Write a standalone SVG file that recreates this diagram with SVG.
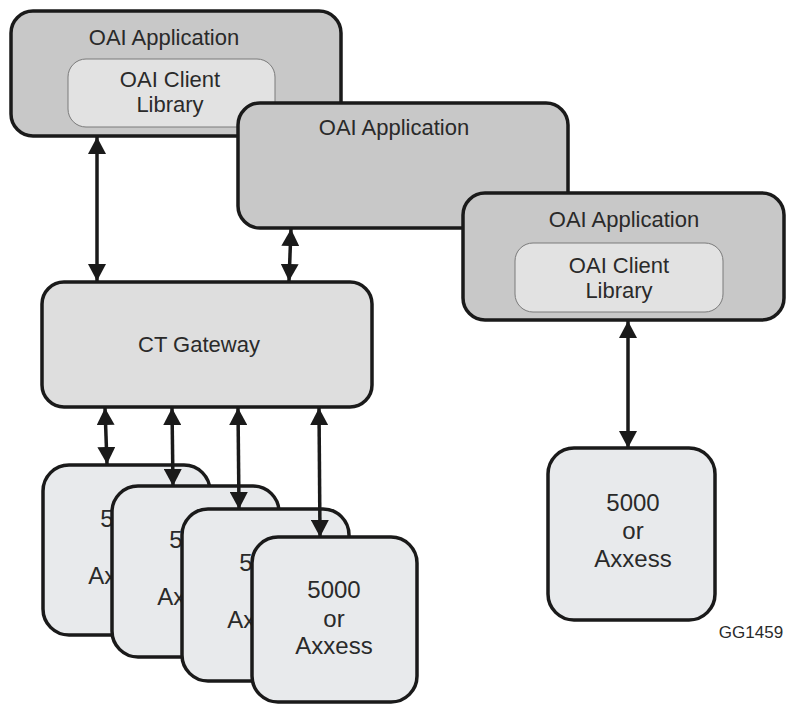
<svg xmlns="http://www.w3.org/2000/svg" width="786" height="704" viewBox="0 0 786 704">
<defs>
<style>
text{font-family:"Liberation Sans",Arial,sans-serif;fill:#2a2a2a;text-anchor:middle}
.app{fill:#c8c8c8;stroke:#1a1a1a;stroke-width:3.5}
.lib{fill:#e2e2e2;stroke:#7a7a7a;stroke-width:1}
.gw{fill:#dedede;stroke:#1a1a1a;stroke-width:3.5}
.dev{fill:#e8eaec;stroke:#1a1a1a;stroke-width:3.5}
.t22{font-size:22px}
.t24{font-size:24px}
.lbl{font-size:17px}
.conn{stroke:#1a1a1a;stroke-width:3.5;fill:none;marker-start:url(#ah);marker-end:url(#ah)}
</style>
<marker id="ah" viewBox="0 0 17 18" refX="17" refY="9" markerWidth="17" markerHeight="18" markerUnits="userSpaceOnUse" orient="auto-start-reverse">
<path d="M0,0 L17,9 L0,18 z" fill="#1a1a1a"/>
</marker>
</defs>
<g id="app1">
<rect class="app" x="11" y="11" width="330" height="125" rx="22"/>
<text class="t22" x="164" y="45">OAI Application</text>
<g id="lib1">
<rect class="lib" x="68" y="59" width="207" height="68" rx="18"/>
<text class="t22" x="170" y="87">OAI Client</text>
<text class="t22" x="170" y="112">Library</text>
</g>
</g>
<g id="app2">
<rect class="app" x="238" y="103" width="330" height="125" rx="22"/>
<text class="t22" x="394" y="135">OAI Application</text>
</g>
<g id="app3">
<rect class="app" x="463" y="193" width="321" height="127" rx="22"/>
<text class="t22" x="624" y="227">OAI Application</text>
<g id="lib3">
<rect class="lib" x="515" y="243" width="208" height="69" rx="18"/>
<text class="t22" x="619" y="273">OAI Client</text>
<text class="t22" x="619" y="298">Library</text>
</g>
</g>
<g id="gateway">
<rect class="gw" x="42" y="282" width="330" height="125" rx="22"/>
<text class="t22" x="199" y="352">CT Gateway</text>
</g>
<g id="dev1">
<rect class="dev" x="43" y="465" width="167" height="170" rx="26"/>
<text class="t24" x="127" y="527">5000</text>
<text class="t24" x="127" y="556">or</text>
<text class="t24" x="127" y="584">Axxess</text>
</g>
<g id="dev2">
<rect class="dev" x="112" y="486" width="167" height="171" rx="26"/>
<text class="t24" x="196" y="548">5000</text>
<text class="t24" x="196" y="577">or</text>
<text class="t24" x="196" y="605">Axxess</text>
</g>
<g id="dev3">
<rect class="dev" x="182" y="509" width="167" height="172" rx="26"/>
<text class="t24" x="266" y="571">5000</text>
<text class="t24" x="266" y="600">or</text>
<text class="t24" x="266" y="628">Axxess</text>
</g>
<g id="dev4">
<rect class="dev" x="252" y="537" width="165" height="165" rx="26"/>
<text class="t24" x="334" y="598">5000</text>
<text class="t24" x="334" y="627">or</text>
<text class="t24" x="334" y="654">Axxess</text>
</g>
<g id="dev5">
<rect class="dev" x="548" y="448" width="167" height="172" rx="26"/>
<text class="t24" x="633" y="511">5000</text>
<text class="t24" x="633" y="539">or</text>
<text class="t24" x="633" y="567">Axxess</text>
</g>
<g id="connectors">
<line class="conn" x1="97" y1="137" x2="97" y2="281"/>
<line class="conn" x1="291" y1="229" x2="289" y2="281"/>
<line class="conn" x1="105" y1="408" x2="107" y2="464"/>
<line class="conn" x1="172" y1="408" x2="173" y2="486"/>
<line class="conn" x1="238" y1="408" x2="239" y2="509"/>
<line class="conn" x1="319" y1="408" x2="320" y2="537"/>
<line class="conn" x1="628" y1="321" x2="628" y2="448"/>
</g>
<text class="lbl" x="751" y="638">GG1459</text>
</svg>
